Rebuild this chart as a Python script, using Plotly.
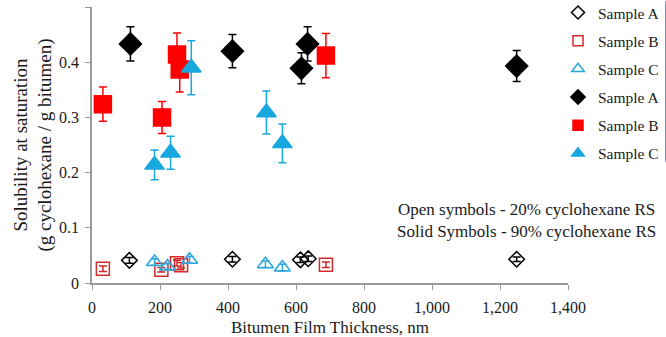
import plotly.graph_objects as go

# Open symbols - 20% cyclohexane RS
openA_x = [110, 413, 613, 636, 1249]
openA_y = [0.041, 0.043, 0.042, 0.044, 0.043]
openA_e = [0.005, 0.005, 0.005, 0.005, 0.004]

openB_x = [32, 204, 250, 262, 688]
openB_y = [0.026, 0.024, 0.036, 0.032, 0.033]
openB_e = [0.005, 0.004, 0.005, 0.005, 0.005]

openC_x = [184, 222, 287, 510, 560]
openC_y = [0.038, 0.030, 0.042, 0.034, 0.028]
openC_e = [0.006, 0.005, 0.006, 0.006, 0.006]

# Solid symbols - 90% cyclohexane RS
solidA_x = [113, 413, 616, 634, 1249]
solidA_y = [0.433, 0.420, 0.389, 0.433, 0.393]
solidA_e = [0.031, 0.030, 0.028, 0.031, 0.028]

solidB_x = [32, 206, 250, 258, 688]
solidB_y = [0.324, 0.300, 0.414, 0.387, 0.412]
solidB_e = [0.031, 0.029, 0.039, 0.041, 0.040]

solidC_x = [184, 231, 292, 513, 560]
solidC_y = [0.214, 0.236, 0.390, 0.309, 0.253]
solidC_e = [0.027, 0.030, 0.049, 0.039, 0.035]

BLACK = "#000000"
RED_OPEN = "#D42A2A"
RED = "#FF0000"
BLUE_OPEN = "#2AA7DE"
BLUE = "#18A8E0"
TXT = "#1a1a1a"
FONT = "Liberation Serif"

series = [
    ("Sample A", openA_x, openA_y, openA_e, "diamond-open", BLACK, 12, 10),
    ("Sample B", openB_x, openB_y, openB_e, "square-open", RED_OPEN, 13, 10),
    ("Sample C", openC_x, openC_y, openC_e, "triangle-up-open", BLUE_OPEN, 14, 11),
    ("Sample A", solidA_x, solidA_y, solidA_e, "diamond", BLACK, 17, 11),
    ("Sample B", solidB_x, solidB_y, solidB_e, "square", RED, 17, 10),
    ("Sample C", solidC_x, solidC_y, solidC_e, "triangle-up", BLUE, 17, 11),
]

fig = go.Figure()
for i, (name, xs, ys, es, sym, col, sz, lsz) in enumerate(series):
    fig.add_trace(go.Scatter(
        x=xs, y=ys, mode="markers", name=name, showlegend=False,
        marker=dict(symbol=sym, color=col, size=sz,
                    line=dict(color=col, width=1.5)),
        error_y=dict(type="data", array=es, visible=True,
                     color=col, thickness=1.5, width=4),
    ))
# legend entries (small symbols, as in the reference legend)
for i, (name, xs, ys, es, sym, col, sz, lsz) in enumerate(series):
    fig.add_trace(go.Scatter(
        x=[None], y=[None], mode="markers", name=name, legendgroup=f"g{i}",
        marker=dict(symbol=sym, color=col, size=lsz,
                    line=dict(color=col, width=1.5)),
    ))

fig.add_annotation(
    x=1.0, y=0.226, xref="paper", yref="paper", xanchor="right", yanchor="middle",
    xshift=90, align="center", showarrow=False,
    text="Open symbols - 20% cyclohexane RS<br>Solid Symbols - 90% cyclohexane RS",
    font=dict(family=FONT, size=17, color=TXT),
)

axis_common = dict(
    showline=True, linecolor="#9a9a9a", linewidth=1.5,
    ticks="outside", tickcolor="#9a9a9a", ticklen=5, tickwidth=1.2,
    showgrid=False, zeroline=False,
    tickfont=dict(family=FONT, size=16, color=TXT),
)

fig.update_layout(
    width=666, height=337,
    margin=dict(l=92, r=98, t=7, b=54, autoexpand=False),
    paper_bgcolor="white", plot_bgcolor="white",
    font=dict(family=FONT, size=16, color=TXT),
    showlegend=True,
    legend=dict(x=0.979, y=1.04, xanchor="left", yanchor="top",
                traceorder="grouped", tracegroupgap=5,
                font=dict(family=FONT, size=15.5, color=TXT),
                itemwidth=30, bgcolor="rgba(0,0,0,0)"),
    xaxis=dict(range=[0, 1400], dtick=200, tickformat=",d", ticklabelstandoff=4,
               title=dict(text="Bitumen Film Thickness, nm", standoff=6,
                          font=dict(family=FONT, size=17, color=TXT)),
               **axis_common),
    yaxis=dict(range=[0, 0.5], dtick=0.1, tickformat="~g", ticklabelstandoff=3,
               title=dict(text="Solubility at saturation<br>(g cyclohexane / g bitumen)",
                          standoff=2,
                          font=dict(family=FONT, size=19, color=TXT)),
               **axis_common),
)

fig.write_html("out.html", config={"displayModeBar": False},
               post_script="document.body.style.margin='0';")
